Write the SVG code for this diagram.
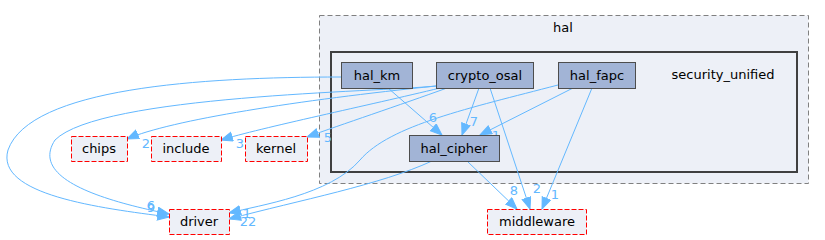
<svg xmlns="http://www.w3.org/2000/svg" width="825" height="240" viewBox="0 0 825 240">
<style>
text{font-family:"DejaVu Sans","Liberation Sans",sans-serif;font-size:13px;fill:#000;text-anchor:middle}
.n{fill:#a2b4d6;stroke:#4d4d4d;stroke-width:1}
.ext{fill:#edf0f7;stroke:#ff0000;stroke-width:1;stroke-dasharray:5,2}
.e{fill:none;stroke:#63b8ff;stroke-width:1;marker-end:url(#ah)}
.l{fill:#63b8ff;font-size:13px}
</style>
<defs>
<marker id="ah" markerUnits="userSpaceOnUse" markerWidth="13" markerHeight="11" refX="12" refY="5" orient="auto">
<path d="M0.5,0.5 L12,5 L0.5,9.5 z" fill="#63b8ff" stroke="#63b8ff"/>
</marker>
</defs>
<rect width="825" height="240" fill="#fff"/>
<g id="cluster_hal">
<rect x="319.5" y="15.5" width="489" height="168" fill="#edf0f7" stroke="#808080" stroke-dasharray="5,3"/>
<text x="563" y="32">hal</text>
</g>
<g id="cluster_security_unified">
<rect x="331" y="52" width="466" height="120" fill="#edf0f7" stroke="#404040" stroke-width="2"/>
<text x="723" y="79">security_unified</text>
</g>
<g id="edges">
<path class="e" d="M341,77 C200,77 30,88 8,150 C-5,195 100,208 169,217"/>
<path class="e" d="M436,86 C380,92 100,95 55,140 C30,178 100,200 169,214"/>
<path class="e" d="M436,86 C300,100 170,120 127,139"/>
<path class="e" d="M440,88 C370,105 260,128 221,140"/>
<path class="e" d="M447,88 C400,105 340,125 307,137"/>
<path class="e" d="M388,88 L442,135"/>
<path class="e" d="M479,88 L462,135"/>
<path class="e" d="M573,88 L480,135"/>
<path class="e" d="M490,88 L530,209"/>
<path class="e" d="M592,88 L542,209"/>
<path class="e" d="M467,161 L517,209"/>
<path class="e" d="M558,85 C470,108 390,125 360,160 C330,195 260,205 229,213"/>
<path class="e" d="M432,161 C380,185 300,200 229,219"/>
</g>
<g id="edge_labels">
<text class="l" x="146" y="148">2</text>
<text class="l" x="240" y="148">3</text>
<text class="l" x="328" y="142">5</text>
<text class="l" x="433" y="122">6</text>
<text class="l" x="474" y="126">7</text>
<text class="l" x="496" y="140">1</text>
<text class="l" x="514" y="195">8</text>
<text class="l" x="537" y="193">2</text>
<text class="l" x="555" y="199">1</text>
<text class="l" x="151" y="210">6</text>
<text class="l" x="151" y="212">9</text>
<text class="l" x="247" y="218">1</text>
<text class="l" x="248" y="226">22</text>
</g>
<g id="node_hal_km"><rect class="n" x="341.5" y="62.5" width="71" height="26"/><text x="377" y="80">hal_km</text></g>
<g id="node_crypto_osal"><rect class="n" x="436.5" y="62.5" width="97" height="26"/><text x="485" y="80">crypto_osal</text></g>
<g id="node_hal_fapc"><rect class="n" x="558.5" y="62.5" width="77" height="26"/><text x="597" y="80">hal_fapc</text></g>
<g id="node_hal_cipher"><rect class="n" x="409.5" y="135.5" width="90" height="26"/><text x="454" y="153">hal_cipher</text></g>
<g id="node_chips"><rect class="ext" x="71.5" y="136.5" width="56" height="25"/><text x="99" y="153">chips</text></g>
<g id="node_include"><rect class="ext" x="151.5" y="136.5" width="70" height="25"/><text x="186" y="153">include</text></g>
<g id="node_kernel"><rect class="ext" x="245.5" y="136.5" width="62" height="25"/><text x="276" y="153">kernel</text></g>
<g id="node_driver"><rect class="ext" x="169.5" y="209.5" width="60" height="25"/><text x="199" y="226">driver</text></g>
<g id="node_middleware"><rect class="ext" x="487.5" y="209.5" width="99" height="25"/><text x="537" y="226">middleware</text></g>
</svg>
